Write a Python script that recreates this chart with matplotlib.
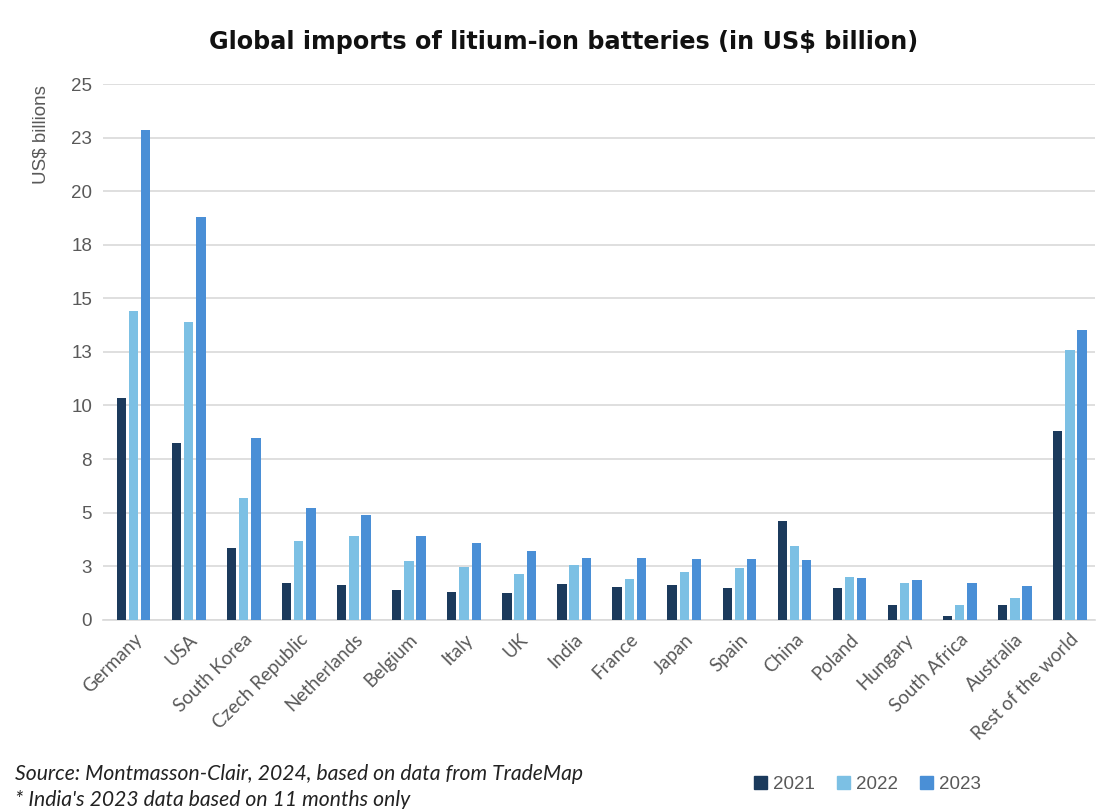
import numpy as np
import matplotlib.pyplot as plt
from matplotlib.patches import Patch

countries = ['Germany', 'USA', 'South Korea', 'Czech Republic', 'Netherlands', 'Belgium',
             'Italy', 'UK', 'India', 'France', 'Japan', 'Spain', 'China', 'Poland',
             'Hungary', 'South Africa', 'Australia', 'Rest of the world']
v2021 = [10.33, 8.24, 3.34, 1.69, 1.64, 1.37, 1.29, 1.24, 1.65, 1.52, 1.63, 1.46,
         4.59, 1.46, 0.70, 0.19, 0.70, 8.81]
v2022 = [14.39, 13.89, 5.68, 3.68, 3.89, 2.72, 2.48, 2.11, 2.53, 1.91, 2.22, 2.42,
         3.46, 1.99, 1.71, 0.70, 1.03, 12.61]
v2023 = [22.86, 18.80, 8.49, 5.23, 4.90, 3.91, 3.59, 3.20, 2.89, 2.89, 2.84, 2.81,
         2.79, 1.95, 1.87, 1.71, 1.56, 13.54]
years = ['2021', '2022', '2023']
yticks = [0, 2.5, 5, 7.5, 10, 12.5, 15, 17.5, 20, 22.5, 25]
ytick_labels = ['0', '3', '5', '8', '10', '13', '15', '18', '20', '23', '25']

colors = ['#1B3A5C', '#7CC0E4', '#4A8FD6']
grey = '#595959'

plt.rcParams['font.family'] = ['Lato', 'DejaVu Sans']
arial = 'Liberation Sans'

fig = plt.figure(figsize=(10.98, 8.09), dpi=100)
ax = fig.add_axes([0.094, 0.234, 0.903, 0.662])

x = np.arange(len(countries))
w = 0.17
step = 0.222
for i, vals in enumerate([v2021, v2022, v2023]):
    ax.bar(x + (i - 1) * step, vals, width=w, color=colors[i], zorder=3)

ax.set_ylim(0, 25)
ax.set_xlim(-0.55, len(countries) - 0.55)
ax.set_yticks(yticks)
ax.set_yticklabels(ytick_labels, color=grey, fontsize=13.5, family=arial)
ax.yaxis.grid(True, color='#D9D9D9', linewidth=1.2, zorder=0)
ax.tick_params(axis='both', length=0, pad=8)
ax.set_xticks(x)
ax.set_xticklabels(countries, rotation=45, ha='right', rotation_mode='anchor',
                   color=grey, fontsize=13.5)
for s in ['top', 'right', 'left']:
    ax.spines[s].set_visible(False)
ax.spines['bottom'].set_color('#D9D9D9')
ax.spines['bottom'].set_linewidth(1.2)

fig.text(0.513, 0.948, 'Global imports of litium-ion batteries (in US$ billion)',
         ha='center', va='center', fontsize=17.2, fontweight='bold', color='#111111',
         family='DejaVu Sans')
fig.text(0.037, 0.895, 'US$ billions', rotation=90, ha='center', va='top',
         color=grey, fontsize=13.5, family=arial)

fig.text(0.014, 0.043, 'Source: Montmasson-Clair, 2024, based on data from TradeMap',
         fontsize=15.2, style='italic', color='#222222', va='center')
fig.text(0.014, 0.011, "* India's 2023 data based on 11 months only",
         fontsize=15.2, style='italic', color='#222222', va='center')

handles = [Patch(color=c) for c in colors]
fig.legend(handles, years, loc='center', bbox_to_anchor=(0.79, 0.03), ncol=3,
           frameon=False, prop={'family': arial, 'size': 13.5}, handlelength=0.7,
           handleheight=0.7, handletextpad=0.3, columnspacing=1.2, labelcolor=grey)

fig.savefig('out.png', dpi=100, facecolor='white')
